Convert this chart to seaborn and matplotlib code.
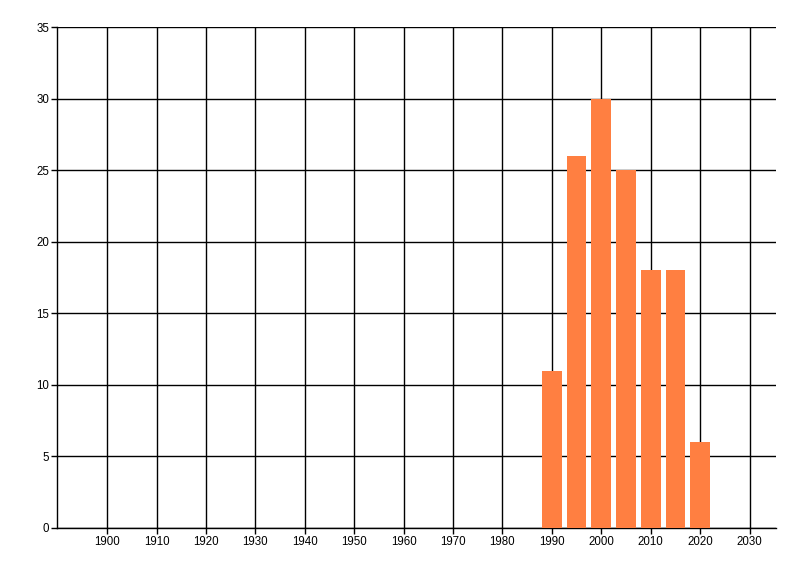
import pandas as pd
import matplotlib
matplotlib.use("Agg")
import matplotlib.pyplot as plt
import seaborn as sns

# 数据
years = [1990, 1995, 2000, 2005, 2010, 2015, 2020]
counts = [11, 26, 30, 25, 18, 18, 6]
x_ticks = list(range(1900, 2031, 10))
y_ticks = list(range(0, 36, 5))

df = pd.DataFrame({"year": years, "count": counts})

sns.set_style("white")
plt.rcParams['font.family'] = ['Liberation Sans', 'DejaVu Sans']

fig = plt.figure(figsize=(8, 5.76), dpi=100)
ax = fig.add_axes([57.3 / 800, 1 - 528 / 576, (775.7 - 57.3) / 800, (528 - 27) / 576])

sns.barplot(data=df, x="year", y="count", native_scale=True, width=0.8,
            color="#FF7F41", saturation=1, linewidth=0, edgecolor="none",
            ax=ax, zorder=3)

ax.set_xlim(1889.9, 2035.3)
ax.set_ylim(0, 35)
ax.set_xticks(x_ticks)
ax.set_yticks(y_ticks)
ax.set_xticklabels([str(t) for t in x_ticks])
ax.set_yticklabels([str(t) for t in y_ticks])
ax.grid(True, color="black", linewidth=1.0, zorder=0)
ax.set_axisbelow(True)
ax.set_xlabel("")
ax.set_ylabel("")

for side in ["top", "right"]:
    ax.spines[side].set_visible(False)
for side in ["left", "bottom"]:
    ax.spines[side].set_color("black")
    ax.spines[side].set_linewidth(1.0)

ax.tick_params(axis="both", direction="out", length=4, width=1, color="black",
               labelsize=8.3, labelcolor="black", pad=2, left=True, bottom=True)

fig.savefig("out.png", dpi=100)
